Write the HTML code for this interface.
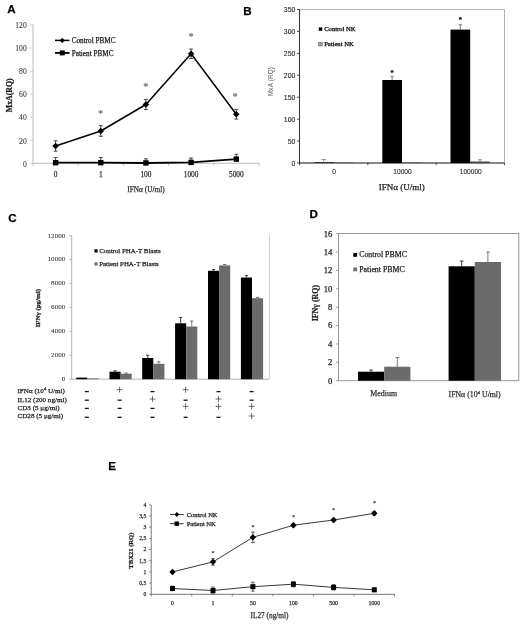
<!DOCTYPE html>
<html><head><meta charset="utf-8"><title>Figure</title>
<style>html,body{margin:0;padding:0;background:#fff}svg{display:block}</style></head><body>
<svg width="520" height="624" viewBox="0 0 520 624">
<rect width="520" height="624" fill="#fff"/>
<text x="7.3" y="12.6" font-size="11.6" text-anchor="start" font-family='"Liberation Sans", sans-serif' font-weight="bold" fill="#000" stroke="#000" stroke-width="0.25">A</text>
<text x="243.3" y="15.2" font-size="11.6" text-anchor="start" font-family='"Liberation Sans", sans-serif' font-weight="bold" fill="#000" stroke="#000" stroke-width="0.25">B</text>
<text x="8.3" y="221.8" font-size="11.6" text-anchor="start" font-family='"Liberation Sans", sans-serif' font-weight="bold" fill="#000" stroke="#000" stroke-width="0.25">C</text>
<text x="309.5" y="218.2" font-size="11.6" text-anchor="start" font-family='"Liberation Sans", sans-serif' font-weight="bold" fill="#000" stroke="#000" stroke-width="0.25">D</text>
<text x="108.3" y="470" font-size="11.6" text-anchor="start" font-family='"Liberation Sans", sans-serif' font-weight="bold" fill="#000" stroke="#000" stroke-width="0.25">E</text>
<line x1="33" y1="24.5" x2="33" y2="163.3" stroke="#b4b4b4" stroke-width="0.9"/>
<line x1="33" y1="163.3" x2="259.5" y2="163.3" stroke="#b4b4b4" stroke-width="0.9"/>
<line x1="30.5" y1="163.3" x2="33" y2="163.3" stroke="#b4b4b4" stroke-width="0.8"/>
<text x="26.7" y="166.60000000000002" font-size="7.6" text-anchor="end" font-family='"Liberation Serif", serif' font-weight="normal" fill="#444" stroke="#444" stroke-width="0.12">0</text>
<line x1="30.5" y1="140.24" x2="33" y2="140.24" stroke="#b4b4b4" stroke-width="0.8"/>
<text x="26.7" y="143.54000000000002" font-size="7.6" text-anchor="end" font-family='"Liberation Serif", serif' font-weight="normal" fill="#444" stroke="#444" stroke-width="0.12">20</text>
<line x1="30.5" y1="117.18" x2="33" y2="117.18" stroke="#b4b4b4" stroke-width="0.8"/>
<text x="26.7" y="120.48" font-size="7.6" text-anchor="end" font-family='"Liberation Serif", serif' font-weight="normal" fill="#444" stroke="#444" stroke-width="0.12">40</text>
<line x1="30.5" y1="94.12" x2="33" y2="94.12" stroke="#b4b4b4" stroke-width="0.8"/>
<text x="26.7" y="97.42" font-size="7.6" text-anchor="end" font-family='"Liberation Serif", serif' font-weight="normal" fill="#444" stroke="#444" stroke-width="0.12">60</text>
<line x1="30.5" y1="71.06" x2="33" y2="71.06" stroke="#b4b4b4" stroke-width="0.8"/>
<text x="26.7" y="74.36" font-size="7.6" text-anchor="end" font-family='"Liberation Serif", serif' font-weight="normal" fill="#444" stroke="#444" stroke-width="0.12">80</text>
<line x1="30.5" y1="48.000000000000014" x2="33" y2="48.000000000000014" stroke="#b4b4b4" stroke-width="0.8"/>
<text x="26.7" y="51.30000000000001" font-size="7.6" text-anchor="end" font-family='"Liberation Serif", serif' font-weight="normal" fill="#444" stroke="#444" stroke-width="0.12">100</text>
<line x1="30.5" y1="24.939999999999998" x2="33" y2="24.939999999999998" stroke="#b4b4b4" stroke-width="0.8"/>
<text x="26.7" y="28.24" font-size="7.6" text-anchor="end" font-family='"Liberation Serif", serif' font-weight="normal" fill="#444" stroke="#444" stroke-width="0.12">120</text>
<line x1="33.0" y1="163.3" x2="33.0" y2="165.8" stroke="#b4b4b4" stroke-width="0.8"/>
<line x1="78.2" y1="163.3" x2="78.2" y2="165.8" stroke="#b4b4b4" stroke-width="0.8"/>
<line x1="123.4" y1="163.3" x2="123.4" y2="165.8" stroke="#b4b4b4" stroke-width="0.8"/>
<line x1="168.60000000000002" y1="163.3" x2="168.60000000000002" y2="165.8" stroke="#b4b4b4" stroke-width="0.8"/>
<line x1="213.8" y1="163.3" x2="213.8" y2="165.8" stroke="#b4b4b4" stroke-width="0.8"/>
<line x1="259.0" y1="163.3" x2="259.0" y2="165.8" stroke="#b4b4b4" stroke-width="0.8"/>
<text x="55.6" y="177" font-size="7.3" text-anchor="middle" font-family='"Liberation Serif", serif' font-weight="normal" fill="#333" stroke="#333" stroke-width="0.25">0</text>
<text x="100.8" y="177" font-size="7.3" text-anchor="middle" font-family='"Liberation Serif", serif' font-weight="normal" fill="#333" stroke="#333" stroke-width="0.25">1</text>
<text x="145.9" y="177" font-size="7.3" text-anchor="middle" font-family='"Liberation Serif", serif' font-weight="normal" fill="#333" stroke="#333" stroke-width="0.25">100</text>
<text x="191.1" y="177" font-size="7.3" text-anchor="middle" font-family='"Liberation Serif", serif' font-weight="normal" fill="#333" stroke="#333" stroke-width="0.25">1000</text>
<text x="236.3" y="177" font-size="7.3" text-anchor="middle" font-family='"Liberation Serif", serif' font-weight="normal" fill="#333" stroke="#333" stroke-width="0.25">5000</text>
<text x="146" y="192" font-size="7.3" text-anchor="middle" font-family='"Liberation Serif", serif' font-weight="normal" fill="#333" stroke="#333" stroke-width="0.25">IFNα (U/ml)</text>
<text x="11.8" y="95.3" font-size="7.8" text-anchor="middle" font-family='"Liberation Serif", serif' font-weight="bold" fill="#222" stroke="#222" stroke-width="0.25" transform="rotate(-90 11.8 95.3)">MxA(RQ)</text>
<line x1="55" y1="40.4" x2="69.5" y2="40.4" stroke="#000" stroke-width="1.5"/>
<polygon points="62.3,37.8 64.89999999999999,40.4 62.3,43.0 59.699999999999996,40.4" fill="#000"/>
<text x="71.7" y="42.7" font-size="7.2" text-anchor="start" font-family='"Liberation Serif", serif' font-weight="normal" fill="#222" stroke="#222" stroke-width="0.25">Control PBMC</text>
<line x1="55" y1="52.9" x2="69.5" y2="52.9" stroke="#000" stroke-width="1.8"/>
<rect x="59.80" y="50.40" width="5.00" height="5.00" fill="#000"/>
<text x="71.7" y="55.7" font-size="7.2" text-anchor="start" font-family='"Liberation Serif", serif' font-weight="normal" fill="#222" stroke="#222" stroke-width="0.25">Patient PBMC</text>
<line x1="55.6" y1="140.81650000000002" x2="55.6" y2="151.1935" stroke="#222" stroke-width="0.8"/>
<line x1="53.6" y1="140.81650000000002" x2="57.6" y2="140.81650000000002" stroke="#222" stroke-width="0.8"/>
<line x1="53.6" y1="151.1935" x2="57.6" y2="151.1935" stroke="#222" stroke-width="0.8"/>
<line x1="100.8" y1="125.71220000000001" x2="100.8" y2="136.31980000000001" stroke="#222" stroke-width="0.8"/>
<line x1="98.8" y1="125.71220000000001" x2="102.8" y2="125.71220000000001" stroke="#222" stroke-width="0.8"/>
<line x1="98.8" y1="136.31980000000001" x2="102.8" y2="136.31980000000001" stroke="#222" stroke-width="0.8"/>
<line x1="145.9" y1="99.53910000000002" x2="145.9" y2="109.45490000000001" stroke="#222" stroke-width="0.8"/>
<line x1="143.9" y1="99.53910000000002" x2="147.9" y2="99.53910000000002" stroke="#222" stroke-width="0.8"/>
<line x1="143.9" y1="109.45490000000001" x2="147.9" y2="109.45490000000001" stroke="#222" stroke-width="0.8"/>
<line x1="191.1" y1="49.037700000000015" x2="191.1" y2="58.4923" stroke="#222" stroke-width="0.8"/>
<line x1="189.1" y1="49.037700000000015" x2="193.1" y2="49.037700000000015" stroke="#222" stroke-width="0.8"/>
<line x1="189.1" y1="58.4923" x2="193.1" y2="58.4923" stroke="#222" stroke-width="0.8"/>
<line x1="236.3" y1="109.45490000000001" x2="236.3" y2="119.14010000000002" stroke="#222" stroke-width="0.8"/>
<line x1="234.3" y1="109.45490000000001" x2="238.3" y2="109.45490000000001" stroke="#222" stroke-width="0.8"/>
<line x1="234.3" y1="119.14010000000002" x2="238.3" y2="119.14010000000002" stroke="#222" stroke-width="0.8"/>
<polyline points="55.6,146.0 100.8,131.0 145.9,104.5 191.1,53.8 236.3,114.3" fill="none" stroke="#000" stroke-width="1.5" stroke-linejoin="round"/>
<polygon points="55.6,142.70499999999998 58.9,146.005 55.6,149.305 52.300000000000004,146.005" fill="#000"/>
<polygon points="100.8,127.71600000000002 104.1,131.01600000000002 100.8,134.31600000000003 97.5,131.01600000000002" fill="#000"/>
<polygon points="145.9,101.19700000000002 149.20000000000002,104.49700000000001 145.9,107.79700000000001 142.6,104.49700000000001" fill="#000"/>
<polygon points="191.1,50.46500000000002 194.4,53.765000000000015 191.1,57.06500000000001 187.79999999999998,53.765000000000015" fill="#000"/>
<polygon points="236.3,110.99750000000002 239.60000000000002,114.29750000000001 236.3,117.59750000000001 233.0,114.29750000000001" fill="#000"/>
<line x1="55.6" y1="157.53500000000003" x2="55.6" y2="162.7235" stroke="#222" stroke-width="0.8"/>
<line x1="53.6" y1="157.53500000000003" x2="57.6" y2="157.53500000000003" stroke="#222" stroke-width="0.8"/>
<line x1="100.8" y1="157.53500000000003" x2="100.8" y2="162.7235" stroke="#222" stroke-width="0.8"/>
<line x1="98.8" y1="157.53500000000003" x2="102.8" y2="157.53500000000003" stroke="#222" stroke-width="0.8"/>
<line x1="145.9" y1="158.8033" x2="145.9" y2="162.9541" stroke="#222" stroke-width="0.8"/>
<line x1="143.9" y1="158.8033" x2="147.9" y2="158.8033" stroke="#222" stroke-width="0.8"/>
<line x1="191.1" y1="157.99620000000002" x2="191.1" y2="162.3776" stroke="#222" stroke-width="0.8"/>
<line x1="189.1" y1="157.99620000000002" x2="193.1" y2="157.99620000000002" stroke="#222" stroke-width="0.8"/>
<line x1="236.3" y1="154.3066" x2="236.3" y2="159.1492" stroke="#222" stroke-width="0.8"/>
<line x1="234.3" y1="154.3066" x2="238.3" y2="154.3066" stroke="#222" stroke-width="0.8"/>
<polyline points="55.6,162.7 100.8,162.7 145.9,163.0 191.1,162.4 236.3,159.1" fill="none" stroke="#000" stroke-width="1.8" stroke-linejoin="round"/>
<rect x="52.90" y="160.02" width="5.40" height="5.40" fill="#000"/>
<rect x="98.10" y="160.02" width="5.40" height="5.40" fill="#000"/>
<rect x="143.20" y="160.25" width="5.40" height="5.40" fill="#000"/>
<rect x="188.40" y="159.68" width="5.40" height="5.40" fill="#000"/>
<rect x="233.60" y="156.45" width="5.40" height="5.40" fill="#000"/>
<text x="100.6" y="116.9" font-size="10.3" text-anchor="middle" font-family='"Liberation Serif", serif' font-weight="normal" fill="#6a6a6a" stroke="#6a6a6a" stroke-width="0.15">*</text>
<text x="145.8" y="90.30000000000001" font-size="10.3" text-anchor="middle" font-family='"Liberation Serif", serif' font-weight="normal" fill="#6a6a6a" stroke="#6a6a6a" stroke-width="0.15">*</text>
<text x="191.1" y="40.199999999999996" font-size="10.3" text-anchor="middle" font-family='"Liberation Serif", serif' font-weight="normal" fill="#6a6a6a" stroke="#6a6a6a" stroke-width="0.15">*</text>
<text x="235.2" y="99.5" font-size="10.3" text-anchor="middle" font-family='"Liberation Serif", serif' font-weight="normal" fill="#6a6a6a" stroke="#6a6a6a" stroke-width="0.15">*</text>
<rect x="299.5" y="9.4" width="205" height="153.6" fill="none" stroke="#a0a0a0" stroke-width="0.8"/>
<line x1="299.5" y1="9.4" x2="299.5" y2="163" stroke="#222" stroke-width="0.9"/>
<line x1="299.5" y1="163" x2="504.5" y2="163" stroke="#222" stroke-width="0.9"/>
<line x1="297.0" y1="163.0" x2="299.5" y2="163.0" stroke="#222" stroke-width="0.8"/>
<text x="295.3" y="165.5" font-size="6.9" text-anchor="end" font-family='"Liberation Sans", sans-serif' font-weight="normal" fill="#222" stroke="#222" stroke-width="0.08">0</text>
<line x1="297.0" y1="141.07" x2="299.5" y2="141.07" stroke="#222" stroke-width="0.8"/>
<text x="295.3" y="143.57" font-size="6.9" text-anchor="end" font-family='"Liberation Sans", sans-serif' font-weight="normal" fill="#222" stroke="#222" stroke-width="0.08">50</text>
<line x1="297.0" y1="119.14" x2="299.5" y2="119.14" stroke="#222" stroke-width="0.8"/>
<text x="295.3" y="121.64" font-size="6.9" text-anchor="end" font-family='"Liberation Sans", sans-serif' font-weight="normal" fill="#222" stroke="#222" stroke-width="0.08">100</text>
<line x1="297.0" y1="97.21000000000001" x2="299.5" y2="97.21000000000001" stroke="#222" stroke-width="0.8"/>
<text x="295.3" y="99.71000000000001" font-size="6.9" text-anchor="end" font-family='"Liberation Sans", sans-serif' font-weight="normal" fill="#222" stroke="#222" stroke-width="0.08">150</text>
<line x1="297.0" y1="75.28" x2="299.5" y2="75.28" stroke="#222" stroke-width="0.8"/>
<text x="295.3" y="77.78" font-size="6.9" text-anchor="end" font-family='"Liberation Sans", sans-serif' font-weight="normal" fill="#222" stroke="#222" stroke-width="0.08">200</text>
<line x1="297.0" y1="53.35000000000001" x2="299.5" y2="53.35000000000001" stroke="#222" stroke-width="0.8"/>
<text x="295.3" y="55.85000000000001" font-size="6.9" text-anchor="end" font-family='"Liberation Sans", sans-serif' font-weight="normal" fill="#222" stroke="#222" stroke-width="0.08">250</text>
<line x1="297.0" y1="31.420000000000016" x2="299.5" y2="31.420000000000016" stroke="#222" stroke-width="0.8"/>
<text x="295.3" y="33.920000000000016" font-size="6.9" text-anchor="end" font-family='"Liberation Sans", sans-serif' font-weight="normal" fill="#222" stroke="#222" stroke-width="0.08">300</text>
<line x1="297.0" y1="9.490000000000009" x2="299.5" y2="9.490000000000009" stroke="#222" stroke-width="0.8"/>
<text x="295.3" y="11.990000000000009" font-size="6.9" text-anchor="end" font-family='"Liberation Sans", sans-serif' font-weight="normal" fill="#222" stroke="#222" stroke-width="0.08">350</text>
<line x1="299.5" y1="163" x2="299.5" y2="165.2" stroke="#222" stroke-width="0.8"/>
<line x1="367.83" y1="163" x2="367.83" y2="165.2" stroke="#222" stroke-width="0.8"/>
<line x1="436.15999999999997" y1="163" x2="436.15999999999997" y2="165.2" stroke="#222" stroke-width="0.8"/>
<line x1="504.49" y1="163" x2="504.49" y2="165.2" stroke="#222" stroke-width="0.8"/>
<text x="334.2" y="174.3" font-size="6.6" text-anchor="middle" font-family='"Liberation Sans", sans-serif' font-weight="normal" fill="#222" stroke="#222" stroke-width="0.08">0</text>
<text x="402.5" y="174.3" font-size="6.6" text-anchor="middle" font-family='"Liberation Sans", sans-serif' font-weight="normal" fill="#222" stroke="#222" stroke-width="0.08">10000</text>
<text x="470.8" y="174.3" font-size="6.6" text-anchor="middle" font-family='"Liberation Sans", sans-serif' font-weight="normal" fill="#222" stroke="#222" stroke-width="0.08">100000</text>
<text x="401.7" y="190" font-size="9" text-anchor="middle" font-family='"Liberation Serif", serif' font-weight="normal" fill="#222" stroke="#222" stroke-width="0.25">IFNα (U/ml)</text>
<text x="273.2" y="81.6" font-size="6.3" text-anchor="middle" font-family='"Liberation Sans", sans-serif' font-weight="normal" fill="#666" stroke="#666" stroke-width="0.05" transform="rotate(-90 273.2 81.6)" textLength="29">MxA (RQ)</text>
<rect x="318.80" y="27.40" width="3.40" height="3.40" fill="#000"/>
<text x="324.2" y="31.2" font-size="6.6" text-anchor="start" font-family='"Liberation Serif", serif' font-weight="normal" fill="#000" stroke="#000" stroke-width="0.25">Control NK</text>
<rect x="318.60" y="42.20" width="3.80" height="3.80" fill="#9a9a9a" stroke="#666" stroke-width="0.5"/>
<text x="324.2" y="46.2" font-size="6.6" text-anchor="start" font-family='"Liberation Serif", serif' font-weight="normal" fill="#000" stroke="#000" stroke-width="0.25">Patient NK</text>
<rect x="314.30" y="162.00" width="19.70" height="1.00" fill="#333"/>
<rect x="334.00" y="162.30" width="19.70" height="0.70" fill="#666"/>
<line x1="323.7" y1="159.5" x2="323.7" y2="163" stroke="#777" stroke-width="0.8"/>
<line x1="321.5" y1="159.5" x2="325.9" y2="159.5" stroke="#777" stroke-width="0.8"/>
<rect x="382.30" y="80.00" width="19.70" height="83.00" fill="#000"/>
<rect x="402.00" y="162.40" width="19.70" height="0.60" fill="#555"/>
<line x1="392.1" y1="76.7" x2="392.1" y2="80" stroke="#444" stroke-width="0.7"/>
<line x1="390.40000000000003" y1="76.7" x2="393.8" y2="76.7" stroke="#444" stroke-width="0.7"/>
<rect x="450.50" y="29.60" width="19.70" height="133.40" fill="#000"/>
<rect x="470.20" y="161.50" width="19.70" height="1.50" fill="#444"/>
<line x1="460.3" y1="24.8" x2="460.3" y2="29.6" stroke="#444" stroke-width="0.7"/>
<line x1="458.6" y1="24.8" x2="462.0" y2="24.8" stroke="#444" stroke-width="0.7"/>
<line x1="480" y1="159.8" x2="480" y2="161.5" stroke="#666" stroke-width="0.7"/>
<line x1="478" y1="159.8" x2="482" y2="159.8" stroke="#666" stroke-width="0.7"/>
<text x="392.1" y="74.9" font-size="8" text-anchor="middle" font-family='"Liberation Sans", sans-serif' font-weight="bold" fill="#111" stroke="#111" stroke-width="0.25">*</text>
<text x="460.3" y="21.9" font-size="8" text-anchor="middle" font-family='"Liberation Sans", sans-serif' font-weight="bold" fill="#111" stroke="#111" stroke-width="0.25">*</text>
<line x1="71.7" y1="235.3" x2="71.7" y2="379.2" stroke="#a8a8a8" stroke-width="0.9"/>
<line x1="71.7" y1="379.2" x2="269.3" y2="379.2" stroke="#a8a8a8" stroke-width="0.9"/>
<line x1="269.4" y1="235.3" x2="269.4" y2="379.2" stroke="#bdbdbd" stroke-width="0.8"/>
<line x1="69.2" y1="379.2" x2="71.7" y2="379.2" stroke="#a8a8a8" stroke-width="0.8"/>
<text x="65.3" y="381.09999999999997" font-size="7.1" text-anchor="end" font-family='"Liberation Serif", serif' font-weight="normal" fill="#444" stroke="#444" stroke-width="0.12">0</text>
<line x1="69.2" y1="355.27" x2="71.7" y2="355.27" stroke="#a8a8a8" stroke-width="0.8"/>
<text x="65.3" y="357.16999999999996" font-size="7.1" text-anchor="end" font-family='"Liberation Serif", serif' font-weight="normal" fill="#444" stroke="#444" stroke-width="0.12">2000</text>
<line x1="69.2" y1="331.34" x2="71.7" y2="331.34" stroke="#a8a8a8" stroke-width="0.8"/>
<text x="65.3" y="333.23999999999995" font-size="7.1" text-anchor="end" font-family='"Liberation Serif", serif' font-weight="normal" fill="#444" stroke="#444" stroke-width="0.12">4000</text>
<line x1="69.2" y1="307.40999999999997" x2="71.7" y2="307.40999999999997" stroke="#a8a8a8" stroke-width="0.8"/>
<text x="65.3" y="309.30999999999995" font-size="7.1" text-anchor="end" font-family='"Liberation Serif", serif' font-weight="normal" fill="#444" stroke="#444" stroke-width="0.12">6000</text>
<line x1="69.2" y1="283.48" x2="71.7" y2="283.48" stroke="#a8a8a8" stroke-width="0.8"/>
<text x="65.3" y="285.38" font-size="7.1" text-anchor="end" font-family='"Liberation Serif", serif' font-weight="normal" fill="#444" stroke="#444" stroke-width="0.12">8000</text>
<line x1="69.2" y1="259.54999999999995" x2="71.7" y2="259.54999999999995" stroke="#a8a8a8" stroke-width="0.8"/>
<text x="65.3" y="261.44999999999993" font-size="7.1" text-anchor="end" font-family='"Liberation Serif", serif' font-weight="normal" fill="#444" stroke="#444" stroke-width="0.12">10000</text>
<line x1="69.2" y1="235.61999999999998" x2="71.7" y2="235.61999999999998" stroke="#a8a8a8" stroke-width="0.8"/>
<text x="65.3" y="237.51999999999998" font-size="7.1" text-anchor="end" font-family='"Liberation Serif", serif' font-weight="normal" fill="#444" stroke="#444" stroke-width="0.12">12000</text>
<text x="39.8" y="308.2" font-size="6.9" text-anchor="middle" font-family='"Liberation Serif", serif' font-weight="bold" fill="#222" stroke="#222" stroke-width="0.25" transform="rotate(-90 39.8 308.2)">IFNγ (pg/ml)</text>
<rect x="94.40" y="249.30" width="3.20" height="3.20" fill="#000"/>
<text x="99.2" y="253" font-size="6.9" text-anchor="start" font-family='"Liberation Serif", serif' font-weight="normal" fill="#222" stroke="#222" stroke-width="0.25">Control PHA-T Blasts</text>
<rect x="94.40" y="262.30" width="3.20" height="3.20" fill="#6e6e6e"/>
<text x="99.2" y="266" font-size="6.9" text-anchor="start" font-family='"Liberation Serif", serif' font-weight="normal" fill="#222" stroke="#222" stroke-width="0.25">Patient PHA-T Blasts</text>
<rect x="76.30" y="377.60" width="11.10" height="1.60" fill="#000"/>
<rect x="87.40" y="378.40" width="11.10" height="0.80" fill="#6b6b6b"/>
<rect x="109.50" y="371.70" width="11.10" height="7.50" fill="#000"/>
<rect x="120.60" y="373.70" width="11.10" height="5.50" fill="#6b6b6b"/>
<line x1="115.05" y1="370.8" x2="115.05" y2="371.7" stroke="#111" stroke-width="0.8"/>
<line x1="113.45" y1="370.8" x2="116.64999999999999" y2="370.8" stroke="#111" stroke-width="0.8"/>
<line x1="126.15" y1="373.0" x2="126.15" y2="373.7" stroke="#555" stroke-width="0.8"/>
<line x1="124.55000000000001" y1="373.0" x2="127.75" y2="373.0" stroke="#555" stroke-width="0.8"/>
<rect x="142.20" y="358.00" width="11.10" height="21.20" fill="#000"/>
<rect x="153.30" y="363.80" width="11.10" height="15.40" fill="#6b6b6b"/>
<line x1="147.75" y1="355.2" x2="147.75" y2="358" stroke="#111" stroke-width="0.8"/>
<line x1="146.15" y1="355.2" x2="149.35" y2="355.2" stroke="#111" stroke-width="0.8"/>
<line x1="158.85" y1="361.8" x2="158.85" y2="363.8" stroke="#555" stroke-width="0.8"/>
<line x1="157.25" y1="361.8" x2="160.45" y2="361.8" stroke="#555" stroke-width="0.8"/>
<rect x="175.10" y="323.30" width="11.10" height="55.90" fill="#000"/>
<rect x="186.20" y="326.50" width="11.10" height="52.70" fill="#6b6b6b"/>
<line x1="180.65" y1="317.4" x2="180.65" y2="323.3" stroke="#111" stroke-width="0.8"/>
<line x1="179.05" y1="317.4" x2="182.25" y2="317.4" stroke="#111" stroke-width="0.8"/>
<line x1="191.75" y1="321" x2="191.75" y2="326.5" stroke="#555" stroke-width="0.8"/>
<line x1="190.15" y1="321" x2="193.35" y2="321" stroke="#555" stroke-width="0.8"/>
<rect x="208.00" y="270.80" width="11.10" height="108.40" fill="#000"/>
<rect x="219.10" y="265.40" width="11.10" height="113.80" fill="#6b6b6b"/>
<line x1="213.55" y1="269.6" x2="213.55" y2="270.8" stroke="#111" stroke-width="0.8"/>
<line x1="211.95000000000002" y1="269.6" x2="215.15" y2="269.6" stroke="#111" stroke-width="0.8"/>
<line x1="224.65" y1="264.5" x2="224.65" y2="265.4" stroke="#555" stroke-width="0.8"/>
<line x1="223.05" y1="264.5" x2="226.25" y2="264.5" stroke="#555" stroke-width="0.8"/>
<rect x="240.90" y="277.50" width="11.10" height="101.70" fill="#000"/>
<rect x="252.00" y="298.20" width="11.10" height="81.00" fill="#6b6b6b"/>
<line x1="246.45000000000002" y1="275.6" x2="246.45000000000002" y2="277.5" stroke="#111" stroke-width="0.8"/>
<line x1="244.85000000000002" y1="275.6" x2="248.05" y2="275.6" stroke="#111" stroke-width="0.8"/>
<line x1="257.55" y1="297.4" x2="257.55" y2="298.2" stroke="#555" stroke-width="0.8"/>
<line x1="255.95000000000002" y1="297.4" x2="259.15000000000003" y2="297.4" stroke="#555" stroke-width="0.8"/>
<text x="17.5" y="392.8" font-size="7.1" text-anchor="start" font-family='"Liberation Serif", serif' font-weight="normal" fill="#222" stroke="#222" stroke-width="0.25">IFNα (10<tspan font-size="4.6" dy="-2.5">4</tspan><tspan dy="2.5"> U/ml)</tspan></text>
<line x1="84.8" y1="391.6" x2="88.8" y2="391.6" stroke="#111" stroke-width="1.3"/>
<line x1="116.6" y1="389.7" x2="122.6" y2="389.7" stroke="#333" stroke-width="0.7"/>
<line x1="119.6" y1="386.7" x2="119.6" y2="392.7" stroke="#333" stroke-width="0.7"/>
<line x1="150.5" y1="391.6" x2="154.5" y2="391.6" stroke="#111" stroke-width="1.3"/>
<line x1="182.6" y1="389.7" x2="188.6" y2="389.7" stroke="#333" stroke-width="0.7"/>
<line x1="185.6" y1="386.7" x2="185.6" y2="392.7" stroke="#333" stroke-width="0.7"/>
<line x1="216.5" y1="391.6" x2="220.5" y2="391.6" stroke="#111" stroke-width="1.3"/>
<line x1="249.6" y1="391.6" x2="253.6" y2="391.6" stroke="#111" stroke-width="1.3"/>
<text x="17.5" y="402.3" font-size="7.1" text-anchor="start" font-family='"Liberation Serif", serif' font-weight="normal" fill="#222" stroke="#222" stroke-width="0.25">IL12 (200 ng/ml)</text>
<line x1="84.8" y1="400.2" x2="88.8" y2="400.2" stroke="#111" stroke-width="1.3"/>
<line x1="117.6" y1="400.2" x2="121.6" y2="400.2" stroke="#111" stroke-width="1.3"/>
<line x1="149.5" y1="399" x2="155.5" y2="399" stroke="#333" stroke-width="0.7"/>
<line x1="152.5" y1="396" x2="152.5" y2="402" stroke="#333" stroke-width="0.7"/>
<line x1="183.6" y1="400.2" x2="187.6" y2="400.2" stroke="#111" stroke-width="1.3"/>
<line x1="215.5" y1="399" x2="221.5" y2="399" stroke="#333" stroke-width="0.7"/>
<line x1="218.5" y1="396" x2="218.5" y2="402" stroke="#333" stroke-width="0.7"/>
<line x1="249.6" y1="400.2" x2="253.6" y2="400.2" stroke="#111" stroke-width="1.3"/>
<text x="17.5" y="410.3" font-size="7.1" text-anchor="start" font-family='"Liberation Serif", serif' font-weight="normal" fill="#222" stroke="#222" stroke-width="0.25">CD3 (5 μg/ml)</text>
<line x1="84.8" y1="408.4" x2="88.8" y2="408.4" stroke="#111" stroke-width="1.3"/>
<line x1="117.6" y1="408.4" x2="121.6" y2="408.4" stroke="#111" stroke-width="1.3"/>
<line x1="150.5" y1="408.4" x2="154.5" y2="408.4" stroke="#111" stroke-width="1.3"/>
<line x1="182.6" y1="406.4" x2="188.6" y2="406.4" stroke="#333" stroke-width="0.7"/>
<line x1="185.6" y1="403.4" x2="185.6" y2="409.4" stroke="#333" stroke-width="0.7"/>
<line x1="215.5" y1="406.4" x2="221.5" y2="406.4" stroke="#333" stroke-width="0.7"/>
<line x1="218.5" y1="403.4" x2="218.5" y2="409.4" stroke="#333" stroke-width="0.7"/>
<line x1="248.6" y1="406.4" x2="254.6" y2="406.4" stroke="#333" stroke-width="0.7"/>
<line x1="251.6" y1="403.4" x2="251.6" y2="409.4" stroke="#333" stroke-width="0.7"/>
<text x="17.5" y="418.3" font-size="7.1" text-anchor="start" font-family='"Liberation Serif", serif' font-weight="normal" fill="#222" stroke="#222" stroke-width="0.25">CD28 (5 μg/ml)</text>
<line x1="84.8" y1="417.3" x2="88.8" y2="417.3" stroke="#111" stroke-width="1.3"/>
<line x1="117.6" y1="417.3" x2="121.6" y2="417.3" stroke="#111" stroke-width="1.3"/>
<line x1="150.5" y1="417.3" x2="154.5" y2="417.3" stroke="#111" stroke-width="1.3"/>
<line x1="183.6" y1="417.3" x2="187.6" y2="417.3" stroke="#111" stroke-width="1.3"/>
<line x1="216.5" y1="417.3" x2="220.5" y2="417.3" stroke="#111" stroke-width="1.3"/>
<line x1="248.6" y1="416" x2="254.6" y2="416" stroke="#333" stroke-width="0.7"/>
<line x1="251.6" y1="413" x2="251.6" y2="419" stroke="#333" stroke-width="0.7"/>
<rect x="338.5" y="233.5" width="180.29999999999995" height="147.2" fill="none" stroke="#8c8c8c" stroke-width="0.9"/>
<line x1="336.0" y1="380.7" x2="338.5" y2="380.7" stroke="#8c8c8c" stroke-width="0.8"/>
<text x="332.3" y="383.59999999999997" font-size="8.6" text-anchor="end" font-family='"Liberation Serif", serif' font-weight="normal" fill="#222" stroke="#222" stroke-width="0.25">0</text>
<line x1="336.0" y1="362.32" x2="338.5" y2="362.32" stroke="#8c8c8c" stroke-width="0.8"/>
<text x="332.3" y="365.21999999999997" font-size="8.6" text-anchor="end" font-family='"Liberation Serif", serif' font-weight="normal" fill="#222" stroke="#222" stroke-width="0.25">2</text>
<line x1="336.0" y1="343.94" x2="338.5" y2="343.94" stroke="#8c8c8c" stroke-width="0.8"/>
<text x="332.3" y="346.84" font-size="8.6" text-anchor="end" font-family='"Liberation Serif", serif' font-weight="normal" fill="#222" stroke="#222" stroke-width="0.25">4</text>
<line x1="336.0" y1="325.56" x2="338.5" y2="325.56" stroke="#8c8c8c" stroke-width="0.8"/>
<text x="332.3" y="328.46" font-size="8.6" text-anchor="end" font-family='"Liberation Serif", serif' font-weight="normal" fill="#222" stroke="#222" stroke-width="0.25">6</text>
<line x1="336.0" y1="307.18" x2="338.5" y2="307.18" stroke="#8c8c8c" stroke-width="0.8"/>
<text x="332.3" y="310.08" font-size="8.6" text-anchor="end" font-family='"Liberation Serif", serif' font-weight="normal" fill="#222" stroke="#222" stroke-width="0.25">8</text>
<line x1="336.0" y1="288.8" x2="338.5" y2="288.8" stroke="#8c8c8c" stroke-width="0.8"/>
<text x="332.3" y="291.7" font-size="8.6" text-anchor="end" font-family='"Liberation Serif", serif' font-weight="normal" fill="#222" stroke="#222" stroke-width="0.25">10</text>
<line x1="336.0" y1="270.41999999999996" x2="338.5" y2="270.41999999999996" stroke="#8c8c8c" stroke-width="0.8"/>
<text x="332.3" y="273.31999999999994" font-size="8.6" text-anchor="end" font-family='"Liberation Serif", serif' font-weight="normal" fill="#222" stroke="#222" stroke-width="0.25">12</text>
<line x1="336.0" y1="252.04" x2="338.5" y2="252.04" stroke="#8c8c8c" stroke-width="0.8"/>
<text x="332.3" y="254.94" font-size="8.6" text-anchor="end" font-family='"Liberation Serif", serif' font-weight="normal" fill="#222" stroke="#222" stroke-width="0.25">14</text>
<line x1="336.0" y1="233.66" x2="338.5" y2="233.66" stroke="#8c8c8c" stroke-width="0.8"/>
<text x="332.3" y="236.56" font-size="8.6" text-anchor="end" font-family='"Liberation Serif", serif' font-weight="normal" fill="#222" stroke="#222" stroke-width="0.25">16</text>
<text x="318" y="303.1" font-size="7.9" text-anchor="middle" font-family='"Liberation Serif", serif' font-weight="bold" fill="#222" stroke="#222" stroke-width="0.25" transform="rotate(-90 318 303.1)">IFNγ (RQ)</text>
<rect x="353.30" y="253.00" width="3.80" height="3.80" fill="#000"/>
<text x="359.2" y="257.2" font-size="7.85" text-anchor="start" font-family='"Liberation Serif", serif' font-weight="normal" fill="#222" stroke="#222" stroke-width="0.25">Control PBMC</text>
<rect x="353.30" y="267.50" width="3.80" height="3.80" fill="#6e6e6e"/>
<text x="359.2" y="271.7" font-size="7.85" text-anchor="start" font-family='"Liberation Serif", serif' font-weight="normal" fill="#222" stroke="#222" stroke-width="0.25">Patient PBMC</text>
<rect x="358.00" y="371.70" width="26.20" height="9.00" fill="#000"/>
<rect x="384.20" y="366.70" width="26.20" height="14.00" fill="#6b6b6b"/>
<line x1="371.1" y1="370" x2="371.1" y2="371.7" stroke="#111" stroke-width="0.8"/>
<line x1="369.3" y1="370" x2="372.90000000000003" y2="370" stroke="#111" stroke-width="0.8"/>
<line x1="397.3" y1="357.5" x2="397.3" y2="366.7" stroke="#555" stroke-width="0.8"/>
<line x1="395.5" y1="357.5" x2="399.1" y2="357.5" stroke="#555" stroke-width="0.8"/>
<rect x="448.60" y="266.30" width="26.20" height="114.40" fill="#000"/>
<rect x="474.80" y="262.00" width="26.20" height="118.70" fill="#6b6b6b"/>
<line x1="461.7" y1="261.1" x2="461.7" y2="266.3" stroke="#111" stroke-width="0.8"/>
<line x1="459.9" y1="261.1" x2="463.5" y2="261.1" stroke="#111" stroke-width="0.8"/>
<line x1="487.9" y1="252" x2="487.9" y2="262" stroke="#555" stroke-width="0.8"/>
<line x1="486.09999999999997" y1="252" x2="489.7" y2="252" stroke="#555" stroke-width="0.8"/>
<text x="383.7" y="395.8" font-size="7.9" text-anchor="middle" font-family='"Liberation Serif", serif' font-weight="normal" fill="#333" stroke="#333" stroke-width="0.25">Medium</text>
<text x="474.6" y="396.6" font-size="7.8" text-anchor="middle" font-family='"Liberation Serif", serif' font-weight="normal" fill="#333" stroke="#333" stroke-width="0.25">IFNα (10<tspan font-size="5" dy="-2.8">4</tspan><tspan dy="2.8"> U/ml)</tspan></text>
<line x1="151.2" y1="505" x2="151.2" y2="594.3" stroke="#555" stroke-width="0.8"/>
<line x1="151.2" y1="594.3" x2="394.5" y2="594.3" stroke="#555" stroke-width="0.8"/>
<line x1="149.2" y1="594.3" x2="151.2" y2="594.3" stroke="#555" stroke-width="0.7"/>
<text x="146.3" y="596.1999999999999" font-size="5.6" text-anchor="end" font-family='"Liberation Serif", serif' font-weight="normal" fill="#333" stroke="#333" stroke-width="0.25">0</text>
<line x1="149.2" y1="583.115" x2="151.2" y2="583.115" stroke="#555" stroke-width="0.7"/>
<text x="146.3" y="585.015" font-size="5.6" text-anchor="end" font-family='"Liberation Serif", serif' font-weight="normal" fill="#333" stroke="#333" stroke-width="0.25">0,5</text>
<line x1="149.2" y1="571.93" x2="151.2" y2="571.93" stroke="#555" stroke-width="0.7"/>
<text x="146.3" y="573.8299999999999" font-size="5.6" text-anchor="end" font-family='"Liberation Serif", serif' font-weight="normal" fill="#333" stroke="#333" stroke-width="0.25">1</text>
<line x1="149.2" y1="560.745" x2="151.2" y2="560.745" stroke="#555" stroke-width="0.7"/>
<text x="146.3" y="562.645" font-size="5.6" text-anchor="end" font-family='"Liberation Serif", serif' font-weight="normal" fill="#333" stroke="#333" stroke-width="0.25">1,5</text>
<line x1="149.2" y1="549.56" x2="151.2" y2="549.56" stroke="#555" stroke-width="0.7"/>
<text x="146.3" y="551.4599999999999" font-size="5.6" text-anchor="end" font-family='"Liberation Serif", serif' font-weight="normal" fill="#333" stroke="#333" stroke-width="0.25">2</text>
<line x1="149.2" y1="538.375" x2="151.2" y2="538.375" stroke="#555" stroke-width="0.7"/>
<text x="146.3" y="540.275" font-size="5.6" text-anchor="end" font-family='"Liberation Serif", serif' font-weight="normal" fill="#333" stroke="#333" stroke-width="0.25">2,5</text>
<line x1="149.2" y1="527.1899999999999" x2="151.2" y2="527.1899999999999" stroke="#555" stroke-width="0.7"/>
<text x="146.3" y="529.0899999999999" font-size="5.6" text-anchor="end" font-family='"Liberation Serif", serif' font-weight="normal" fill="#333" stroke="#333" stroke-width="0.25">3</text>
<line x1="149.2" y1="516.005" x2="151.2" y2="516.005" stroke="#555" stroke-width="0.7"/>
<text x="146.3" y="517.905" font-size="5.6" text-anchor="end" font-family='"Liberation Serif", serif' font-weight="normal" fill="#333" stroke="#333" stroke-width="0.25">3,5</text>
<line x1="149.2" y1="504.81999999999994" x2="151.2" y2="504.81999999999994" stroke="#555" stroke-width="0.7"/>
<text x="146.3" y="506.7199999999999" font-size="5.6" text-anchor="end" font-family='"Liberation Serif", serif' font-weight="normal" fill="#333" stroke="#333" stroke-width="0.25">4</text>
<line x1="151.2" y1="594.3" x2="151.2" y2="596.3" stroke="#555" stroke-width="0.7"/>
<line x1="191.75" y1="594.3" x2="191.75" y2="596.3" stroke="#555" stroke-width="0.7"/>
<line x1="232.29999999999998" y1="594.3" x2="232.29999999999998" y2="596.3" stroke="#555" stroke-width="0.7"/>
<line x1="272.84999999999997" y1="594.3" x2="272.84999999999997" y2="596.3" stroke="#555" stroke-width="0.7"/>
<line x1="313.4" y1="594.3" x2="313.4" y2="596.3" stroke="#555" stroke-width="0.7"/>
<line x1="353.95" y1="594.3" x2="353.95" y2="596.3" stroke="#555" stroke-width="0.7"/>
<line x1="394.5" y1="594.3" x2="394.5" y2="596.3" stroke="#555" stroke-width="0.7"/>
<text x="172.5" y="605.4" font-size="5.8" text-anchor="middle" font-family='"Liberation Serif", serif' font-weight="normal" fill="#333" stroke="#333" stroke-width="0.25">0</text>
<text x="213" y="605.4" font-size="5.8" text-anchor="middle" font-family='"Liberation Serif", serif' font-weight="normal" fill="#333" stroke="#333" stroke-width="0.25">1</text>
<text x="252.9" y="605.4" font-size="5.8" text-anchor="middle" font-family='"Liberation Serif", serif' font-weight="normal" fill="#333" stroke="#333" stroke-width="0.25">50</text>
<text x="293.4" y="605.4" font-size="5.8" text-anchor="middle" font-family='"Liberation Serif", serif' font-weight="normal" fill="#333" stroke="#333" stroke-width="0.25">100</text>
<text x="333.6" y="605.4" font-size="5.8" text-anchor="middle" font-family='"Liberation Serif", serif' font-weight="normal" fill="#333" stroke="#333" stroke-width="0.25">500</text>
<text x="374.3" y="605.4" font-size="5.8" text-anchor="middle" font-family='"Liberation Serif", serif' font-weight="normal" fill="#333" stroke="#333" stroke-width="0.25">1000</text>
<text x="269.5" y="618.2" font-size="7.3" text-anchor="middle" font-family='"Liberation Serif", serif' font-weight="normal" fill="#333" stroke="#333" stroke-width="0.25">IL27 (ng/ml)</text>
<text x="133" y="550.6" font-size="6.6" text-anchor="middle" font-family='"Liberation Serif", serif' font-weight="bold" fill="#222" stroke="#222" stroke-width="0.25" transform="rotate(-90 133 550.6)">TBX21 (RQ)</text>
<line x1="170" y1="514.5" x2="183.7" y2="514.5" stroke="#222" stroke-width="0.9"/>
<polygon points="176.8,512.1 179.20000000000002,514.5 176.8,516.9 174.4,514.5" fill="#000"/>
<text x="186.7" y="516.7" font-size="6.5" text-anchor="start" font-family='"Liberation Serif", serif' font-weight="normal" fill="#222" stroke="#222" stroke-width="0.25">Control NK</text>
<line x1="170" y1="523.7" x2="183.7" y2="523.7" stroke="#222" stroke-width="0.9"/>
<rect x="174.60" y="521.50" width="4.40" height="4.40" fill="#000"/>
<text x="186.7" y="525.9" font-size="6.5" text-anchor="start" font-family='"Liberation Serif", serif' font-weight="normal" fill="#222" stroke="#222" stroke-width="0.25">Patient NK</text>
<line x1="213" y1="558.5079999999999" x2="213" y2="565.2189999999999" stroke="#222" stroke-width="0.7"/>
<line x1="211.2" y1="558.5079999999999" x2="214.8" y2="558.5079999999999" stroke="#222" stroke-width="0.7"/>
<line x1="211.2" y1="565.2189999999999" x2="214.8" y2="565.2189999999999" stroke="#222" stroke-width="0.7"/>
<line x1="252.9" y1="532.1114" x2="252.9" y2="542.4015999999999" stroke="#222" stroke-width="0.7"/>
<line x1="251.1" y1="532.1114" x2="254.70000000000002" y2="532.1114" stroke="#222" stroke-width="0.7"/>
<line x1="251.1" y1="542.4015999999999" x2="254.70000000000002" y2="542.4015999999999" stroke="#222" stroke-width="0.7"/>
<line x1="293.4" y1="523.3870999999999" x2="293.4" y2="526.9662999999999" stroke="#222" stroke-width="0.7"/>
<line x1="291.59999999999997" y1="523.3870999999999" x2="295.2" y2="523.3870999999999" stroke="#222" stroke-width="0.7"/>
<line x1="291.59999999999997" y1="526.9662999999999" x2="295.2" y2="526.9662999999999" stroke="#222" stroke-width="0.7"/>
<line x1="333.6" y1="518.242" x2="333.6" y2="521.8212" stroke="#222" stroke-width="0.7"/>
<line x1="331.8" y1="518.242" x2="335.40000000000003" y2="518.242" stroke="#222" stroke-width="0.7"/>
<line x1="331.8" y1="521.8212" x2="335.40000000000003" y2="521.8212" stroke="#222" stroke-width="0.7"/>
<line x1="374.3" y1="511.53099999999995" x2="374.3" y2="515.1102" stroke="#222" stroke-width="0.7"/>
<line x1="372.5" y1="511.53099999999995" x2="376.1" y2="511.53099999999995" stroke="#222" stroke-width="0.7"/>
<line x1="372.5" y1="515.1102" x2="376.1" y2="515.1102" stroke="#222" stroke-width="0.7"/>
<polyline points="172.5,571.9 213,561.9 252.9,537.3 293.4,525.2 333.6,520.0 374.3,513.3" fill="none" stroke="#222" stroke-width="0.9"/>
<polygon points="172.5,568.7299999999999 175.7,571.93 172.5,575.13 169.3,571.93" fill="#000"/>
<polygon points="213,558.6634999999999 216.2,561.8634999999999 213,565.0635 209.8,561.8634999999999" fill="#000"/>
<polygon points="252.9,534.0564999999999 256.1,537.2565 252.9,540.4565 249.70000000000002,537.2565" fill="#000"/>
<polygon points="293.4,521.9766999999999 296.59999999999997,525.1767 293.4,528.3767 290.2,525.1767" fill="#000"/>
<polygon points="333.6,516.8315999999999 336.8,520.0315999999999 333.6,523.2316 330.40000000000003,520.0315999999999" fill="#000"/>
<polygon points="374.3,510.1205999999999 377.5,513.3205999999999 374.3,516.5206 371.1,513.3205999999999" fill="#000"/>
<line x1="172.5" y1="586.2468" x2="172.5" y2="590.7207999999999" stroke="#222" stroke-width="0.7"/>
<line x1="170.7" y1="586.2468" x2="174.3" y2="586.2468" stroke="#222" stroke-width="0.7"/>
<line x1="170.7" y1="590.7207999999999" x2="174.3" y2="590.7207999999999" stroke="#222" stroke-width="0.7"/>
<line x1="213" y1="587.1415999999999" x2="213" y2="593.8525999999999" stroke="#222" stroke-width="0.7"/>
<line x1="211.2" y1="587.1415999999999" x2="214.8" y2="587.1415999999999" stroke="#222" stroke-width="0.7"/>
<line x1="211.2" y1="593.8525999999999" x2="214.8" y2="593.8525999999999" stroke="#222" stroke-width="0.7"/>
<line x1="252.9" y1="582.2202" x2="252.9" y2="591.1682" stroke="#222" stroke-width="0.7"/>
<line x1="251.1" y1="582.2202" x2="254.70000000000002" y2="582.2202" stroke="#222" stroke-width="0.7"/>
<line x1="251.1" y1="591.1682" x2="254.70000000000002" y2="591.1682" stroke="#222" stroke-width="0.7"/>
<line x1="293.4" y1="581.5491" x2="293.4" y2="586.9178999999999" stroke="#222" stroke-width="0.7"/>
<line x1="291.59999999999997" y1="581.5491" x2="295.2" y2="581.5491" stroke="#222" stroke-width="0.7"/>
<line x1="291.59999999999997" y1="586.9178999999999" x2="295.2" y2="586.9178999999999" stroke="#222" stroke-width="0.7"/>
<line x1="333.6" y1="584.6809" x2="333.6" y2="590.0496999999999" stroke="#222" stroke-width="0.7"/>
<line x1="331.8" y1="584.6809" x2="335.40000000000003" y2="584.6809" stroke="#222" stroke-width="0.7"/>
<line x1="331.8" y1="590.0496999999999" x2="335.40000000000003" y2="590.0496999999999" stroke="#222" stroke-width="0.7"/>
<line x1="374.3" y1="588.0364" x2="374.3" y2="591.6156" stroke="#222" stroke-width="0.7"/>
<line x1="372.5" y1="588.0364" x2="376.1" y2="588.0364" stroke="#222" stroke-width="0.7"/>
<line x1="372.5" y1="591.6156" x2="376.1" y2="591.6156" stroke="#222" stroke-width="0.7"/>
<polyline points="172.5,588.5 213,590.5 252.9,586.7 293.4,584.2 333.6,587.4 374.3,589.8" fill="none" stroke="#222" stroke-width="0.9"/>
<rect x="170.00" y="585.98" width="5.00" height="5.00" fill="#000"/>
<rect x="210.50" y="588.00" width="5.00" height="5.00" fill="#000"/>
<rect x="250.40" y="584.19" width="5.00" height="5.00" fill="#000"/>
<rect x="290.90" y="581.73" width="5.00" height="5.00" fill="#000"/>
<rect x="331.10" y="584.87" width="5.00" height="5.00" fill="#000"/>
<rect x="371.80" y="587.33" width="5.00" height="5.00" fill="#000"/>
<text x="213" y="555.4" font-size="6" text-anchor="middle" font-family='"Liberation Serif", serif' font-weight="normal" fill="#222" stroke="#222" stroke-width="0.1">*</text>
<text x="252.9" y="529.1999999999999" font-size="6" text-anchor="middle" font-family='"Liberation Serif", serif' font-weight="normal" fill="#222" stroke="#222" stroke-width="0.1">*</text>
<text x="293.4" y="518.9" font-size="6" text-anchor="middle" font-family='"Liberation Serif", serif' font-weight="normal" fill="#222" stroke="#222" stroke-width="0.1">*</text>
<text x="333.5" y="511.9" font-size="6" text-anchor="middle" font-family='"Liberation Serif", serif' font-weight="normal" fill="#222" stroke="#222" stroke-width="0.1">*</text>
<text x="374.4" y="505.0" font-size="6" text-anchor="middle" font-family='"Liberation Serif", serif' font-weight="normal" fill="#222" stroke="#222" stroke-width="0.1">*</text>
</svg></body></html>
